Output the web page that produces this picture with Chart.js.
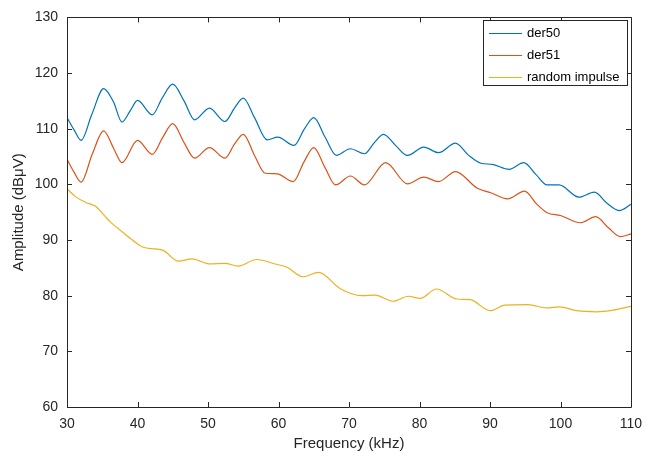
<!DOCTYPE html>
<html lang="en">
<head>
  <meta charset="UTF-8">
  <title>Amplitude vs Frequency</title>
  <script src="https://cdn.jsdelivr.net/npm/chart.js"></script>
  <style>
    html, body { margin: 0; padding: 0; background: #fff; }
    #wrap { width: 645px; height: 453px; position: relative; }
  </style>
</head>
<body>
  <div id="wrap"><canvas id="ampChart"></canvas></div>

  <script>
    // [frequency kHz, amplitude dBuV]
    const der50 = [
      [30,112.0],[31,109.8],[32,107.9],[33.5,112.5],[35.2,117.2],[36.6,114.8],[37.8,111.2],[39,113.3],
      [40.0,115.1],[42.1,112.5],[43.5,115.5],[45.0,118.0],[46.6,115.0],[48.1,111.6],[50.2,113.7],
      [52.4,111.3],[53.8,113.8],[55.0,115.5],[56.6,112.0],[58.4,108.0],[59.9,108.5],[62.2,107.0],
      [63.7,110.0],[65.0,112.0],[66.6,108.5],[68.2,105.2],[70.2,106.4],[72.2,105.5],[73.6,107.5],
      [74.9,109.0],[76.6,107.0],[78.3,105.2],[80.6,106.7],[82.7,105.7],[85.1,107.4],[86.9,105.3],
      [88.7,103.8],[90.3,103.6],[92.7,102.7],[94.8,103.9],[96.5,101.8],[98.1,99.9],[99.8,99.9],
      [102.6,97.7],[104.8,98.6],[106.6,96.6],[108.3,95.3],[110,96.4]
    ];
    const der51 = [
      [30,104.5],[31,102.2],[32,100.4],[33.6,105.5],[35.2,109.6],[36.6,106.5],[37.8,103.9],[40.0,107.9],
      [42.1,105.4],[43.6,108.5],[45.0,110.9],[46.6,107.5],[48.1,104.7],[50.2,106.6],[52.4,104.7],
      [53.8,107.3],[55.0,109.0],[56.6,105.2],[58.1,102.0],[59.8,101.9],[62.1,100.5],[63.6,104.0],
      [65.0,106.6],[66.6,103.0],[68.1,99.9],[70.2,101.5],[72.2,99.9],[75.2,103.9],[78.3,100.1],
      [80.6,101.3],[82.7,100.5],[85.1,102.3],[88.2,99.3],[90.1,98.5],[92.5,97.4],[94.9,98.8],
      [96.6,96.5],[98.1,94.9],[100,94.4],[102.8,93.1],[105,94.2],[106.8,92.2],[108.5,90.6],[110,91.1]
    ];
    const randomImpulse = [
      [30,99.2],[31.2,97.8],[32.6,96.8],[34.0,96.1],[36.1,93.3],[38.2,91.1],[40.8,88.7],[42.5,88.4],
      [43.7,88.1],[45.8,86.2],[47.7,86.6],[50.3,85.7],[52.4,85.8],[54.3,85.3],[56.9,86.5],[59.5,85.7],
      [61.2,85.1],[63.5,83.4],[65.7,84.2],[68.7,81.3],[71.8,80.0],[73.7,80.1],[76.3,79.0],[78.4,79.9],
      [80.1,79.5],[82.4,81.2],[85.3,79.4],[87.2,79.3],[90.0,77.3],[92.1,78.3],[95.4,78.4],[98.0,77.8],
      [99.9,78.0],[102.3,77.3],[105.1,77.1],[107.5,77.4],[110,78.1]
    ];
    const seriesNames = ['der50', 'der51', 'random impulse'];
    const seriesColors = ['#0072BD', '#D95319', '#EDB120'];

    const axisColor = '#262626';
    const fontFamily = '"Liberation Sans", Arial, Helvetica, sans-serif';

    const toPoints = arr => arr.map(p => ({ x: p[0], y: p[1] }));

    // box around the axes with inward tick marks on all four sides
    const boxPlugin = {
      id: 'matBox',
      afterDraw(chart) {
        const { ctx, chartArea: a, scales } = chart;
        const len = 5;
        ctx.save();
        ctx.strokeStyle = axisColor;
        ctx.lineWidth = 1;
        ctx.beginPath();
        ctx.rect(Math.round(a.left) + 0.5, Math.round(a.top) + 0.5,
                 Math.round(a.right - a.left), Math.round(a.bottom - a.top));
        scales.x.ticks.forEach(t => {
          const px = Math.round(scales.x.getPixelForValue(t.value)) + 0.5;
          ctx.moveTo(px, a.bottom); ctx.lineTo(px, a.bottom - len);
          ctx.moveTo(px, a.top); ctx.lineTo(px, a.top + len);
        });
        scales.y.ticks.forEach(t => {
          const py = Math.round(scales.y.getPixelForValue(t.value)) + 0.5;
          ctx.moveTo(a.left, py); ctx.lineTo(a.left + len, py);
          ctx.moveTo(a.right, py); ctx.lineTo(a.right - len, py);
        });
        ctx.stroke();
        ctx.restore();
      }
    };

    // legend box in the upper right corner of the plot
    const legendPlugin = {
      id: 'matLegend',
      afterDraw(chart) {
        const { ctx, chartArea: a } = chart;
        const x0 = a.right - 148, y0 = a.top + 3, w = 144, h = 65;
        ctx.save();
        ctx.fillStyle = '#fff';
        ctx.fillRect(x0, y0, w, h);
        ctx.strokeStyle = axisColor;
        ctx.lineWidth = 1;
        ctx.strokeRect(Math.round(x0) + 0.5, Math.round(y0) + 0.5, w, h);
        ctx.font = '13px ' + fontFamily;
        ctx.textBaseline = 'middle';
        chart.data.datasets.forEach((ds, i) => {
          const cy = Math.round(y0 + 13 + i * 22) + 0.5;
          ctx.strokeStyle = ds.borderColor;
          ctx.lineWidth = 1;
          ctx.beginPath();
          ctx.moveTo(x0 + 6, cy); ctx.lineTo(x0 + 39, cy);
          ctx.stroke();
          ctx.fillStyle = '#000';
          ctx.fillText(ds.label, x0 + 44, cy);
        });
        ctx.restore();
      }
    };

    const datasets = [der50, der51, randomImpulse].map((d, i) => ({
      label: seriesNames[i],
      data: toPoints(d),
      borderColor: seriesColors[i],
      backgroundColor: seriesColors[i],
      borderWidth: 1.2,
      pointRadius: 0,
      cubicInterpolationMode: 'monotone',
      fill: false
    }));

    new Chart(document.getElementById('ampChart'), {
      type: 'line',
      data: { datasets },
      options: {
        responsive: true,
        maintainAspectRatio: false,
        animation: false,
        layout: { padding: { top: 12, right: 14, left: 0, bottom: 0 } },
        plugins: {
          legend: { display: false },
          tooltip: { enabled: false }
        },
        scales: {
          x: {
            type: 'linear',
            min: 30, max: 110,
            afterFit(scale) {
              scale.height = 46;
              scale.paddingLeft = 0;
              scale.paddingRight = 0;
            },
            grid: { display: false, drawTicks: false },
            border: { display: false },
            ticks: {
              stepSize: 10, padding: 9, color: axisColor, maxRotation: 0,
              font: { family: fontFamily, size: 14 }
            },
            title: {
              display: true, text: 'Frequency (kHz)', color: axisColor,
              font: { family: fontFamily, size: 15 }, padding: { top: 0, bottom: 0 }
            }
          },
          y: {
            min: 60, max: 130,
            afterFit(scale) { scale.width = 67; },
            grid: { display: false, drawTicks: false },
            border: { display: false },
            ticks: {
              stepSize: 10, padding: 9, color: axisColor,
              font: { family: fontFamily, size: 14 }
            },
            title: {
              display: true, text: 'Amplitude (dBμV)', color: axisColor,
              font: { family: fontFamily, size: 15 }, padding: { top: 10, bottom: 0 }
            }
          }
        }
      },
      plugins: [boxPlugin, legendPlugin]
    });
  </script>
</body>
</html>
